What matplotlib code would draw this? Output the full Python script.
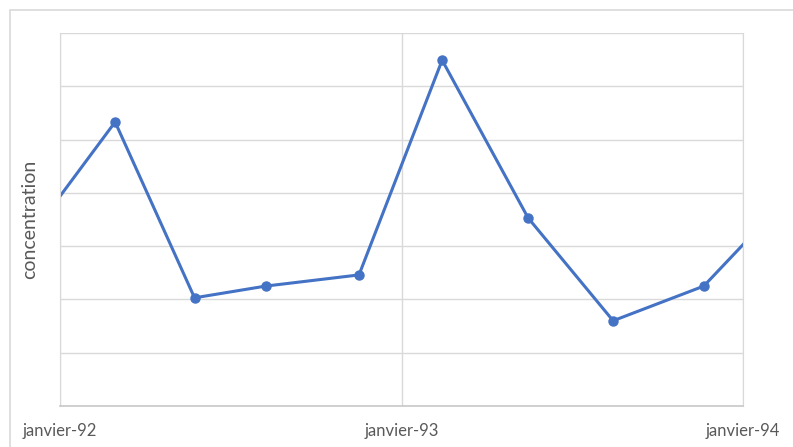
import datetime as dt
import matplotlib
matplotlib.use("Agg")
import matplotlib.pyplot as plt
from matplotlib.patches import Rectangle

# sampling dates and measured concentration (arbitrary units)
dates = [dt.date(1991, 11, 16), dt.date(1992, 2, 29), dt.date(1992, 5, 24),
         dt.date(1992, 8, 8), dt.date(1992, 11, 16), dt.date(1993, 2, 13),
         dt.date(1993, 5, 16), dt.date(1993, 8, 15), dt.date(1993, 11, 20),
         dt.date(1994, 2, 16)]
concentration = [2.85, 5.33, 2.03, 2.25, 2.46, 6.49, 3.53, 1.60, 2.25, 3.88]

tick_dates = [dt.date(1992, 1, 1), dt.date(1993, 1, 1), dt.date(1994, 1, 1)]
tick_labels = ["janvier-92", "janvier-93", "janvier-94"]

W, H = 793, 447
fig = plt.figure(figsize=(W / 100, H / 100), dpi=100)
plt.rcParams["font.family"] = ["Lato", "DejaVu Sans"]

# chart frame
fig.patches.append(Rectangle((10 / W, -0.1), 1.2, 1 - 10 / H + 0.1,
                             transform=fig.transFigure, fill=False,
                             edgecolor="#d9d9d9", linewidth=1.2))

ax = fig.add_axes([60 / W, 1 - 406 / H, (743 - 60) / W, (406 - 33) / H])
ax.plot(dates, concentration, color="#4472c4", linewidth=2.2,
        marker="o", markersize=6.5)

ax.set_xlim(tick_dates[0], tick_dates[-1])
ax.set_ylim(0, 7)
ax.set_yticks(range(0, 8))
ax.set_yticklabels([])
ax.set_xticks(tick_dates)
ax.set_xticklabels(tick_labels, color="#595959", fontsize=12)
ax.tick_params(axis="x", length=0, pad=12)
ax.tick_params(axis="y", length=0, pad=0)

ax.grid(True, color="#d9d9d9", linewidth=1)
ax.set_axisbelow(True)
ax.spines["top"].set_visible(False)
ax.spines["left"].set_color("#d9d9d9")
ax.spines["right"].set_color("#d9d9d9")
ax.spines["bottom"].set_color("#c8c8c8")
ax.spines["bottom"].set_linewidth(1.2)

ax.set_ylabel("concentration", color="#595959", fontsize=14, labelpad=16)

fig.savefig("out.png", dpi=100)
